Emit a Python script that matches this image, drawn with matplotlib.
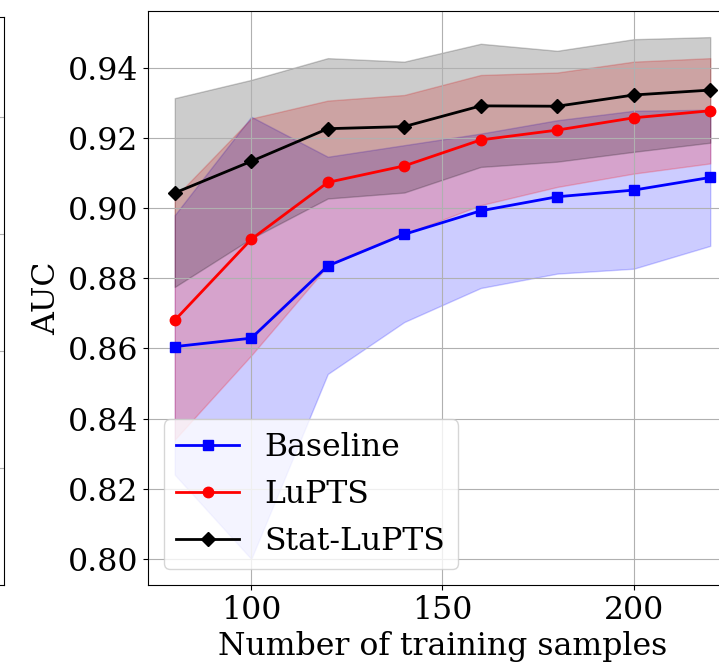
import numpy as np
import matplotlib
matplotlib.use('Agg')
import matplotlib.pyplot as plt

plt.rcParams['font.family'] = 'serif'
plt.rcParams['font.serif'] = ['DejaVu Serif']

# training set sizes
n_samples = [80, 100, 120, 140, 160, 180, 200, 220]

# mean AUC per method
baseline_auc = [0.8605, 0.8629, 0.8835, 0.8925, 0.8992, 0.9032, 0.9051, 0.9087]
lupts_auc = [0.8680, 0.8911, 0.9073, 0.9120, 0.9194, 0.9222, 0.9257, 0.9277]
stat_lupts_auc = [0.9043, 0.9133, 0.9226, 0.9232, 0.9291, 0.9290, 0.9322, 0.9336]

# shaded bands (lower / upper)
baseline_lo = [0.8240, 0.8000, 0.8527, 0.8675, 0.8772, 0.8813, 0.8827, 0.8892]
baseline_hi = [0.8980, 0.9260, 0.9146, 0.9179, 0.9212, 0.9250, 0.9277, 0.9280]
lupts_lo = [0.8340, 0.8580, 0.8835, 0.8925, 0.9008, 0.9060, 0.9098, 0.9127]
lupts_hi = [0.9030, 0.9255, 0.9306, 0.9322, 0.9379, 0.9386, 0.9417, 0.9427]
stat_lo = [0.8775, 0.8913, 0.9027, 0.9044, 0.9117, 0.9132, 0.9160, 0.9186]
stat_hi = [0.9313, 0.9365, 0.9427, 0.9417, 0.9468, 0.9448, 0.9481, 0.9487]

FS = 22.7

fig = plt.figure(figsize=(7.19, 6.66), dpi=100)

# edge of the neighbouring panel (only its right border is visible)
ax_left = fig.add_axes([-0.5, 81 / 666, 0.5 + 4 / 719, 568 / 666])
ax_left.set_xticks([])
ax_left.set_yticks([1, 2, 3, 4])
ax_left.set_ylim(0, 4.855)
ax_left.tick_params(labelleft=False, left=False)
ax_left.grid(True)

ax = fig.add_axes([148 / 719, 81 / 666, 589 / 719, 574 / 666])

series = [
    ('Baseline', baseline_auc, baseline_lo, baseline_hi, 'blue', 's', 7),
    ('LuPTS', lupts_auc, lupts_lo, lupts_hi, 'red', 'o', 7.5),
    ('Stat-LuPTS', stat_lupts_auc, stat_lo, stat_hi, 'black', 'D', 7),
]
for label, mean, lo, hi, color, marker, ms in series:
    ax.plot(n_samples, mean, color=color, marker=marker, markersize=ms,
            linewidth=2, label=label)
    ax.fill_between(n_samples, lo, hi, color=color, alpha=0.2)

ax.set_xticks([100, 150, 200])
ax.set_yticks(np.arange(0.80, 0.9401, 0.02))
ax.tick_params(labelsize=FS)
ax.set_xlabel('Number of training samples', fontsize=FS)
ax.set_ylabel('AUC', fontsize=FS)
ax.grid(True)
ax.legend(loc='lower left', fontsize=FS)

fig.savefig('out.png', dpi=100)
